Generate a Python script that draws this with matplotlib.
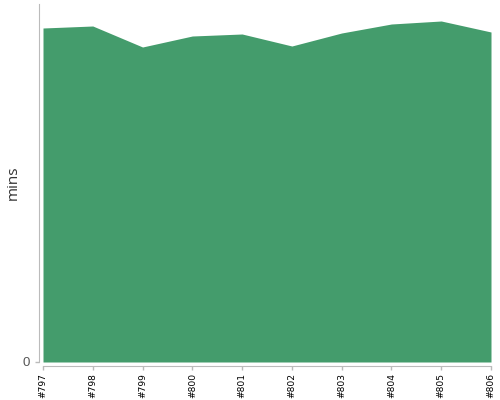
import matplotlib
matplotlib.use("Agg")
import matplotlib.pyplot as plt

builds = ["#797", "#798", "#799", "#800", "#801", "#802", "#803", "#804", "#805", "#806"]
minutes = [33.4, 33.6, 31.5, 32.6, 32.8, 31.6, 32.9, 33.8, 34.1, 33.0]

fig = plt.figure(figsize=(5, 4), dpi=100)
ax = fig.add_axes([43/500, 1 - 362/400, (491 - 43)/500, (362 - 4)/400])
x = list(range(len(builds)))
ax.fill_between(x, minutes, 0, color="#449c6c", linewidth=0)
ax.set_xlim(0, len(builds) - 1)
ax.set_ylim(0, 35.8)
for s in ["top", "right"]:
    ax.spines[s].set_visible(False)
ax.spines["left"].set_position(("outward", 3))
ax.spines["bottom"].set_position(("outward", 3))
for s in ["left", "bottom"]:
    ax.spines[s].set_color("#bbbbbb")
ax.tick_params(axis="both", color="#bbbbbb", length=3, width=1)
ax.set_xticks(x)
ax.set_xticklabels(builds, fontsize=6.6, family="DejaVu Sans", color="#000000")
ax.tick_params(axis="x", labelrotation=90, pad=2)
ax.set_yticks([0])
ax.set_yticklabels(["0"], fontsize=9.5, color="#555555", family="Liberation Sans")
ax.set_ylabel("mins", fontsize=11, color="#333333", family="Open Sans")
ax.yaxis.set_label_coords((21 - 43) / 448, 0.5)
fig.savefig("out.png", dpi=100)
